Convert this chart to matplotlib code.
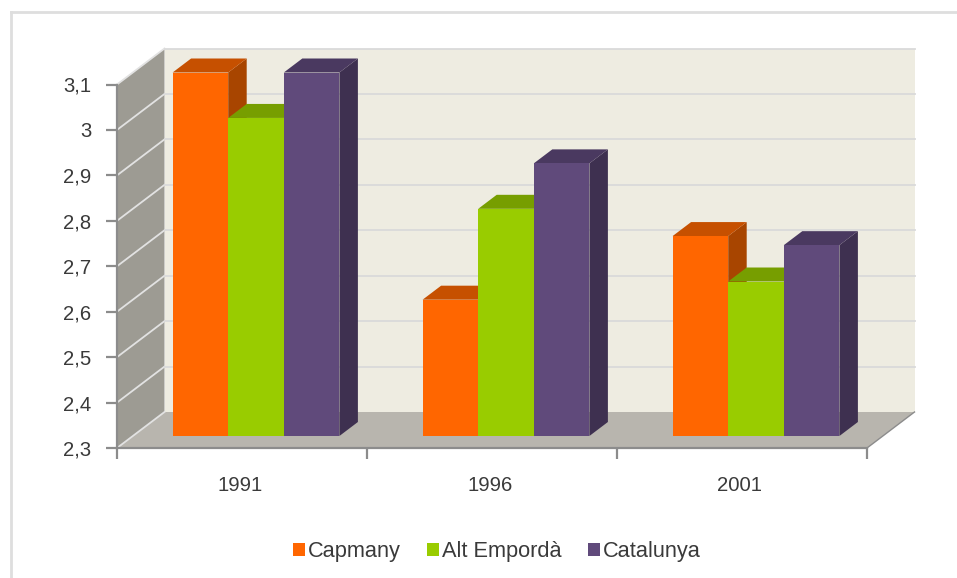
import matplotlib
matplotlib.use("Agg")
import matplotlib.pyplot as plt
from matplotlib.lines import Line2D
from matplotlib.patches import Polygon, Patch
from matplotlib.transforms import IdentityTransform, Affine2D

# ---- data ----
years = ["1991", "1996", "2001"]
series_names = ["Capmany", "Alt Empordà", "Catalunya"]
capmany = [3.1, 2.6, 2.74]
alt_emporda = [3.0, 2.8, 2.64]
catalunya = [3.1, 2.9, 2.72]
y_ticks = [2.3, 2.4, 2.5, 2.6, 2.7, 2.8, 2.9, 3.0, 3.1]
y_labels = ["2,3", "2,4", "2,5", "2,6", "2,7", "2,8", "2,9", "3", "3,1"]

# ---- style ----
front_cols = ["#FF6600", "#99CC00", "#604A7B"]
top_cols = ["#C65000", "#779E00", "#4A3960"]
side_cols = ["#A84500", "#668800", "#3E3050"]
W, H = 957, 578
FONT = "Liberation Sans"
TXT = "#3A3A3A"
BAR_W = 0.2224
WALL = (47.5, 36.0)       # pixel depth of the chart box
BAR_OFF = (14.0, 12.0)    # front of bars from the front of the box
BAR_D = (18.5, 14.0)      # pixel depth of bars

plt.rcParams["font.family"] = [FONT, "DejaVu Sans"]
fig = plt.figure(figsize=(W / 100, H / 100), dpi=100, facecolor="white")
ax = fig.add_axes([117 / W, (H - 448) / H, 750 / W, 363.5 / H])
ax.set_xlim(0, 3)
ax.set_ylim(2.3, 3.1)
ax.patch.set_visible(False)
for s in ["top", "right"]:
    ax.spines[s].set_visible(False)
for s in ["left", "bottom"]:
    ax.spines[s].set_color("#8C8C8C")
    ax.spines[s].set_linewidth(1.6)

# outer frame: only the top and left edges show
fig.add_artist(Line2D([10.5 / W, 1], [(H - 11.5) / H] * 2, transform=fig.transFigure,
                      color="#DEDEDE", lw=2))
fig.add_artist(Line2D([10.5 / W] * 2, [(H - 11.5) / H, 0], transform=fig.transFigure,
                      color="#DEDEDE", lw=2))

ident = IdentityTransform()


def px(x, y):
    return ax.transData.transform((x, y))


def shift(p, d, k=1.0):
    return (p[0] + d[0] * k, p[1] + d[1] * k)


def poly(points, fc, z, ec="none", lw=0):
    ax.add_patch(Polygon(points, closed=True, fc=fc, ec=ec, lw=lw, transform=ident,
                         zorder=z, clip_on=False))


x0, x1 = 0, 3
y0, y1 = y_ticks[0], y_ticks[-1]
bl, br, tl = px(x0, y0), px(x1, y0), px(x0, y1)
tr = px(x1, y1)

# back wall, floor, left wall
poly([shift(bl, WALL), shift(br, WALL), shift(tr, WALL), shift(tl, WALL)], "#EEECE1", 1)
poly([bl, br, shift(br, WALL), shift(bl, WALL)], "#B8B5AE", 1.1)
poly([bl, tl, shift(tl, WALL), shift(bl, WALL)], "#9D9B93", 1.1)

# gridlines on the walls
for v in y_ticks:
    p = px(x0, v)
    q = px(x1, v)
    b1, b2 = shift(p, WALL), shift(q, WALL)
    ax.plot([p[0], b1[0]], [p[1], b1[1]], transform=ident, color="#E2E2E2", lw=1.3,
            zorder=1.5, clip_on=False)
    if v != y0:
        ax.plot([b1[0], b2[0]], [b1[1], b2[1]], transform=ident, color="#DADADA", lw=1.3,
                zorder=1.5, clip_on=False)
b2 = shift(br, WALL)
ax.plot([br[0], b2[0]], [br[1], b2[1]], transform=ident, color="#8C8C8C", lw=1.0, zorder=1.5,
        clip_on=False)

# bars, drawn left to right so the nearer faces overlap correctly
z = 3
for cat in range(len(years)):
    for i, vals in enumerate([capmany, alt_emporda, catalunya]):
        left = cat + 0.5 + (i - 1.5) * BAR_W
        right = left + BAR_W
        v = vals[cat]
        a = shift(px(left, y0), BAR_OFF)
        b = shift(px(right, y0), BAR_OFF)
        c = shift(px(right, v), BAR_OFF)
        d = shift(px(left, v), BAR_OFF)
        poly([b, c, shift(c, BAR_D), shift(b, BAR_D)], side_cols[i], z)
        poly([d, c, shift(c, BAR_D), shift(d, BAR_D)], top_cols[i], z + 0.1)
        poly([a, b, c, d], front_cols[i], z + 0.2)
        z += 1

# axes ticks and labels
ax.set_yticks(y_ticks, y_labels)
ax.set_xticks(range(0, 4))
ax.set_xticklabels([])
ax.set_xticks([0.5, 1.5, 2.5], years, minor=True)
ax.tick_params(axis="y", length=8, width=1.6, color="#8C8C8C", pad=10.5, labelsize=14.6,
               labelcolor=TXT)
ax.tick_params(axis="x", which="major", length=8, width=1.6, color="#8C8C8C")
ax.tick_params(axis="x", which="minor", length=0, pad=20, labelsize=14.6, labelcolor=TXT)
for lab in ax.get_xticklabels(minor=True):
    lab.set_transform(lab.get_transform() + Affine2D().translate(-2, 0))

handles = [Patch(fc=c, ec="none") for c in front_cols]
leg = fig.legend(handles, series_names, loc="center", bbox_to_anchor=(497 / W, (H - 552) / H),
                 ncol=3, frameon=False, fontsize=15.7, labelcolor=TXT,
                 handlelength=0.55, handleheight=0.55, handletextpad=0.15, columnspacing=1.2)

fig.savefig("out.png", dpi=100, facecolor="white")
